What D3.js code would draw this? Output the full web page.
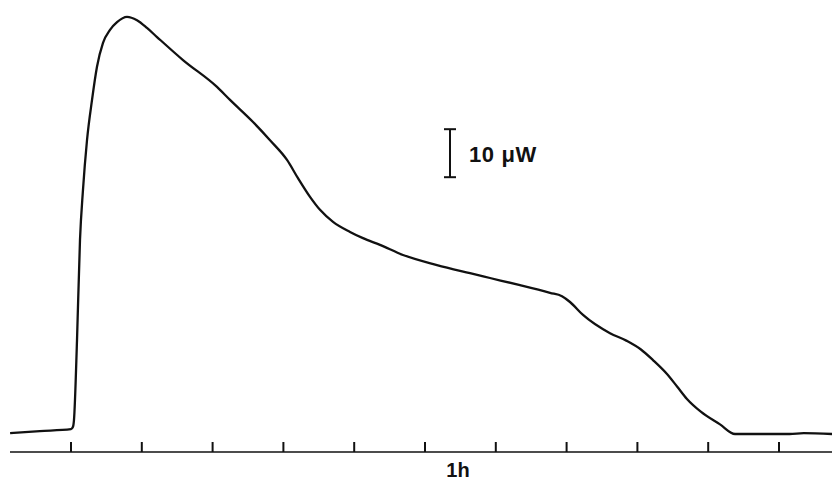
<!DOCTYPE html>
<html>
<head>
<meta charset="utf-8">
<script src="https://cdn.jsdelivr.net/npm/d3@7"></script>
<style>
  html, body { margin: 0; padding: 0; background: #fff; }
  svg { display: block; }
</style>
</head>
<body>
<svg id="chart" width="832" height="482"></svg>
<script>
// time in minutes (one tick = 10 min), heat flow in µW above baseline
const timeMin = [-8.6, -4.4, 0, 0.28, 0.42, 0.85, 1.27, 1.69, 2.26, 2.97, 3.67, 4.52, 5.51, 6.5, 7.91,
  9.32, 10.73, 12.15, 15.82, 20.62, 22.46, 25.71, 28.11, 30.51, 32.06, 33.76, 35.17, 37.01, 39.41,
  41.24, 43.64, 46.89, 51.69, 56.36, 59.18, 63.42, 67.66, 69.35, 70.48, 72.32, 76.13, 78.5, 80.5,
  82.2, 84.18, 85.6, 87.0, 89.0, 91.67, 93.79, 95.9, 101.5, 103.5, 107.5];
const heatFlow = [0.2, 0.6, 1.0, 1.5, 2.9, 19.6, 40.4, 50.8, 61.2, 69.6, 76.5, 81.5, 84.2, 85.8, 86.9,
  86.2, 84.6, 82.7, 77.9, 72.3, 69.6, 65.0, 61.2, 57.1, 53.3, 49.4, 46.7, 44.2, 42.1,
  40.8, 39.4, 37.3, 35.2, 33.5, 32.5, 31.0, 29.4, 28.7, 27.5, 24.8, 21.0, 19.4, 17.6,
  15.4, 12.5, 9.9, 7.3, 4.6, 2.0, 0, 0, 0, 0.2, 0];
const tickMinutes = d3.range(0, 101, 10);
const axisLabel = "1h";
const scaleBarValue = 10;   // µW
const scaleBarLabel = "10 \u03bcW";

const svg = d3.select("#chart");
const font = "'Liberation Sans', Arial, Helvetica, sans-serif";

const x = d3.scaleLinear().domain([0, 100]).range([71, 779]);
const y = d3.scaleLinear().domain([0, 10]).range([434, 386]);

// time axis: plain line with upward ticks
const axisY = 452;
svg.append("line")
  .attr("x1", 10).attr("x2", 832)
  .attr("y1", axisY).attr("y2", axisY)
  .attr("stroke", "#111").attr("stroke-width", 1.6);

svg.selectAll("line.tick")
  .data(tickMinutes)
  .join("line")
  .attr("class", "tick")
  .attr("x1", d => x(d)).attr("x2", d => x(d))
  .attr("y1", axisY).attr("y2", axisY - 10)
  .attr("stroke", "#111").attr("stroke-width", 2);

svg.append("text")
  .attr("x", 458).attr("y", 477)
  .attr("text-anchor", "middle")
  .attr("font-family", font)
  .attr("font-weight", "bold")
  .attr("font-size", 20)
  .attr("fill", "#111")
  .text(axisLabel);

// thermogram trace
const pts = timeMin.map((t, i) => [t, heatFlow[i]]);
const line = d3.line()
  .x(d => x(d[0]))
  .y(d => y(d[1]))
  .curve(d3.curveMonotoneX);

svg.append("path")
  .datum(pts)
  .attr("d", line)
  .attr("fill", "none")
  .attr("stroke", "#111")
  .attr("stroke-width", 2.3)
  .attr("stroke-linejoin", "round");

// 10 µW scale bar
const barX = 450, barBase = 53.5;
const bar = svg.append("g").attr("stroke", "#111").attr("stroke-width", 2);
bar.append("line")
  .attr("x1", barX).attr("x2", barX)
  .attr("y1", y(barBase)).attr("y2", y(barBase + scaleBarValue));
[barBase, barBase + scaleBarValue].forEach(v => {
  bar.append("line")
    .attr("x1", barX - 6).attr("x2", barX + 6)
    .attr("y1", y(v)).attr("y2", y(v));
});

svg.append("text")
  .attr("x", 469).attr("y", 162)
  .attr("font-family", font)
  .attr("font-weight", "bold")
  .attr("font-size", 22)
  .attr("letter-spacing", 0.6)
  .attr("fill", "#111")
  .text(scaleBarLabel);
</script>
</body>
</html>
